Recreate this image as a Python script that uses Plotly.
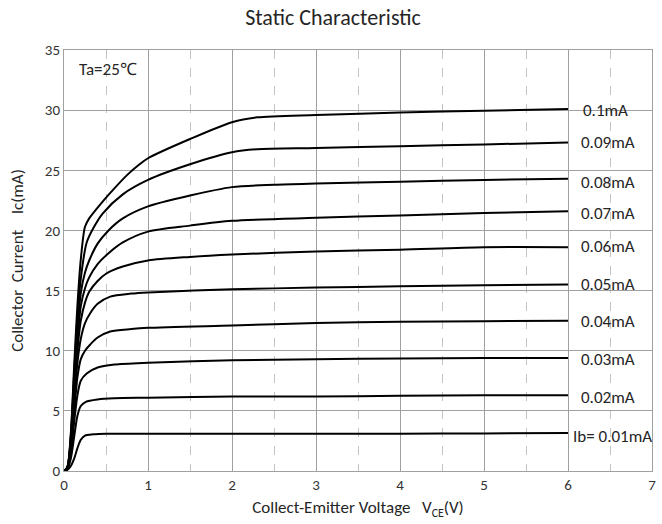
import plotly.graph_objects as go

# Base current labels
labels = ["Ib= 0.01mA", "0.02mA", "0.03mA", "0.04mA", "0.05mA",
          "0.06mA", "0.07mA", "0.08mA", "0.09mA", "0.1mA"]

# Collector-emitter voltage (V) and collector current (mA) for each curve
v_001 = [0, 0.04, 0.08, 0.12, 0.16, 0.2, 0.25, 0.35, 0.5, 1, 2, 3, 4, 5, 6]
i_001 = [0, 0.1, 0.4, 1.0, 1.9, 2.6, 2.95, 3.05, 3.1, 3.1, 3.1, 3.1, 3.1, 3.12, 3.15]

v_002 = [0, 0.04, 0.08, 0.12, 0.16, 0.2, 0.26, 0.4, 0.6, 1, 2, 3, 4, 5, 6]
i_002 = [0, 0.15, 1.0, 2.8, 4.6, 5.4, 5.75, 5.95, 6.05, 6.1, 6.2, 6.2, 6.25, 6.3, 6.3]

v_003 = [0, 0.04, 0.08, 0.12, 0.16, 0.2, 0.27, 0.4, 0.6, 1, 2, 3, 4, 5, 6]
i_003 = [0, 0.2, 1.3, 4.0, 6.3, 7.5, 8.1, 8.6, 8.85, 9.0, 9.2, 9.3, 9.35, 9.4, 9.4]

v_004 = [0, 0.04, 0.08, 0.12, 0.16, 0.2, 0.25, 0.31, 0.4, 0.55, 0.8, 1, 2, 3, 4, 5, 6]
i_004 = [0, 0.2, 1.6, 4.8, 7.8, 9.3, 10.0, 10.5, 11.1, 11.6, 11.8, 11.9, 12.1, 12.3, 12.4, 12.45, 12.5]

v_005 = [0, 0.04, 0.08, 0.12, 0.16, 0.2, 0.25, 0.31, 0.4, 0.55, 0.8, 1, 2, 3, 4, 5, 6]
i_005 = [0, 0.25, 1.9, 5.5, 9.0, 11.0, 12.3, 13.1, 13.9, 14.5, 14.75, 14.85, 15.1, 15.25, 15.35, 15.45, 15.5]

v_006 = [0, 0.04, 0.08, 0.12, 0.16, 0.2, 0.25, 0.3, 0.4, 0.5, 0.7, 1, 1.5, 2, 3, 4, 5, 6]
i_006 = [0, 0.25, 2.1, 6.2, 10.0, 12.5, 14.0, 14.9, 15.8, 16.4, 17.0, 17.5, 17.8, 18.0, 18.25, 18.4, 18.6, 18.6]

v_007 = [0, 0.04, 0.08, 0.12, 0.16, 0.2, 0.25, 0.3, 0.4, 0.53, 0.7, 1, 1.5, 2, 3, 4, 5, 6]
i_007 = [0, 0.3, 2.4, 6.8, 10.8, 13.7, 15.2, 16.1, 17.2, 18.1, 19.0, 19.9, 20.4, 20.8, 21.05, 21.25, 21.45, 21.6]

v_008 = [0, 0.04, 0.08, 0.12, 0.16, 0.2, 0.25, 0.3, 0.4, 0.53, 0.7, 1, 1.5, 2, 2.5, 3, 4, 5, 6]
i_008 = [0, 0.3, 2.6, 7.4, 11.8, 14.8, 16.5, 17.5, 18.9, 20.0, 21.0, 22.0, 22.9, 23.6, 23.8, 23.9, 24.05, 24.2, 24.3]

v_009 = [0, 0.04, 0.08, 0.12, 0.16, 0.2, 0.27, 0.35, 0.46, 0.7, 1, 1.5, 2, 2.3, 3, 4, 5, 6]
i_009 = [0, 0.3, 2.8, 8.0, 12.8, 16.0, 19.0, 20.2, 21.4, 23.0, 24.2, 25.5, 26.5, 26.75, 26.85, 27.0, 27.15, 27.3]

v_010 = [0, 0.04, 0.08, 0.12, 0.16, 0.2, 0.25, 0.3, 0.46, 0.6, 0.75, 0.9, 1, 1.5, 2, 2.3, 3, 4, 5, 6]
i_010 = [0, 0.35, 3.0, 8.6, 13.8, 17.6, 20.3, 21.0, 22.4, 23.5, 24.6, 25.5, 26.0, 27.6, 29.0, 29.4, 29.6, 29.8, 29.95, 30.1]

curves_v = [v_001, v_002, v_003, v_004, v_005, v_006, v_007, v_008, v_009, v_010]
curves_i = [i_001, i_002, i_003, i_004, i_005, i_006, i_007, i_008, i_009, i_010]

# Label anchor positions (x in V, y in mA)
label_x = [6.03, 6.13, 6.13, 6.13, 6.13, 6.13, 6.13, 6.13, 6.13, 6.15]
label_y = [2.9, 6.15, 9.3, 12.4, 15.5, 18.7, 21.4, 24.0, 27.3, 30.0]

fig = go.Figure()
for v, i in zip(curves_v, curves_i):
    fig.add_trace(go.Scatter(x=v, y=i, mode="lines",
                             line=dict(color="black", width=2, shape="spline", smoothing=0.8),
                             showlegend=False, hoverinfo="skip"))

txt_font = dict(family="Carlito, Open Sans, sans-serif", size=17, color="#262626")
for lab, lx, ly in zip(labels, label_x, label_y):
    fig.add_annotation(x=lx, y=ly, text=lab, showarrow=False, xanchor="left",
                       yanchor="middle", font=txt_font)

fig.add_annotation(x=0.16, y=33.4, text="Ta=25℃", showarrow=False, xanchor="left",
                   yanchor="middle", font=txt_font)

grid_col = "#a0a0a0"
fig.update_layout(
    width=662, height=524,
    margin=dict(l=64, r=6, t=50, b=53),
    paper_bgcolor="white", plot_bgcolor="white",
    font=dict(family="Carlito, Open Sans, sans-serif", color="#333333", size=15),
    title=dict(text="Static Characteristic", x=0.503, xanchor="center", y=0.967, yanchor="middle",
               font=dict(size=22, color="#262626")),
    xaxis=dict(range=[0, 7], dtick=1, tick0=0, showgrid=True, gridcolor=grid_col, gridwidth=1,
               showline=True, linecolor=grid_col, mirror=True, zeroline=False,
               ticks="", tickfont=dict(size=15, color="#333333"),
               minor=dict(dtick=0.5, tick0=0, showgrid=True, gridcolor="#c4c4c4",
                          griddash="dash", gridwidth=1),
               title=dict(text="Collect-Emitter Voltage   V<sub>CE</sub>(V)", standoff=8,
                          font=dict(size=17, color="#262626"))),
    yaxis=dict(range=[0, 35], dtick=5, tick0=0, showgrid=True, gridcolor=grid_col, gridwidth=1,
               showline=True, linecolor=grid_col, mirror=True, zeroline=False,
               ticks="", tickfont=dict(size=15, color="#333333"),
               title=dict(text="Collector  Current    Ic(mA)", standoff=16,
                          font=dict(size=17, color="#262626"))),
)

fig.write_html("out.html", post_script="document.body.style.margin='0px';",
               config={"displayModeBar": False})
